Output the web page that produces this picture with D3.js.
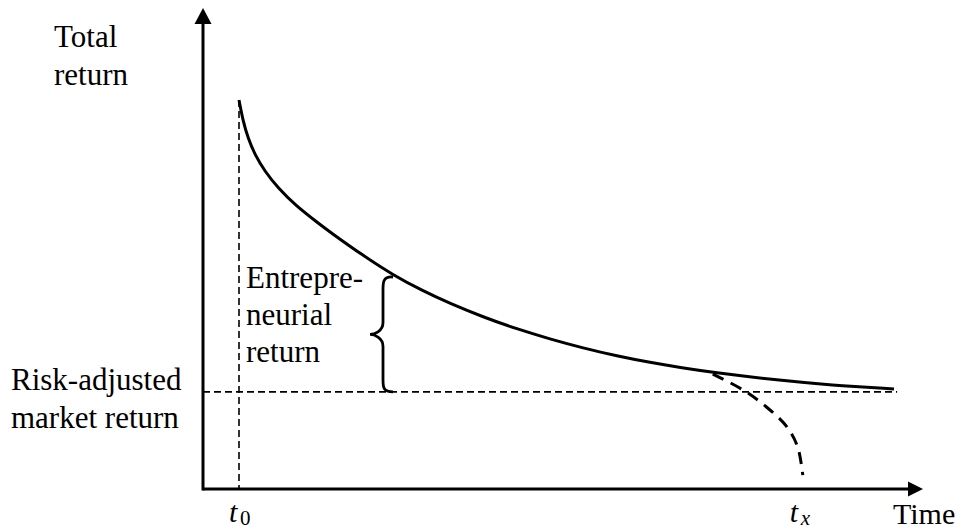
<!DOCTYPE html>
<html>
<head>
<meta charset="utf-8">
<script src="https://cdn.jsdelivr.net/npm/d3@7"></script>
<style>
  body { margin: 0; background: #fff; }
  svg { display: block; }
</style>
</head>
<body>
<div id="chart"></div>
<script>
// time (0-100) vs total return (0-100)
const curveTime   = [5.0, 5.56, 6.25, 7.22, 8.61, 10.42, 12.78, 15.97, 17.64, 22.22, 26.39, 30.56, 34.31, 38.89, 43.61, 48.19, 52.78, 57.5, 62.08, 66.67, 70.42, 80.14, 87.08, 95.97];
const curveReturn = [80.87, 76.51, 72.97, 69.44, 66.01, 62.58, 59.04, 55.3, 53.43, 48.54, 44.49, 41.16, 38.57, 35.76, 33.26, 31.19, 29.31, 27.65, 26.3, 25.16, 24.32, 22.56, 21.62, 20.79];

const dropTime   = [70.8, 75.0, 78.3, 81.1, 82.6, 83.3];
const dropReturn = [23.9, 20.6, 17.0, 12.9, 8.7, 2.9];

const marketReturn = 20.2;
const marketEnd = 96.4;
const t0 = 5.0;
const braceTime = 26.39;
const braceTop = 44.49;

const width = 963, height = 532;

const x = d3.scaleLinear().domain([0, 100]).range([203, 923]);
const y = d3.scaleLinear().domain([0, 100]).range([489, 8]);

const svg = d3.select("#chart").append("svg")
    .attr("width", width)
    .attr("height", height)
    .attr("viewBox", [0, 0, width, height]);

// axes with arrow heads
svg.append("line")
    .attr("x1", x(0)).attr("x2", x(100) - 6)
    .attr("y1", y(0)).attr("y2", y(0))
    .attr("stroke", "#000").attr("stroke-width", 3);
svg.append("line")
    .attr("x1", x(0)).attr("x2", x(0))
    .attr("y1", y(0) + 1.5).attr("y2", y(100) + 6)
    .attr("stroke", "#000").attr("stroke-width", 3);
svg.append("path")
    .attr("d", `M${x(100)},${y(0)}L${x(100) - 15},${y(0) - 7.5}L${x(100) - 15},${y(0) + 7.5}Z`)
    .attr("fill", "#000");
svg.append("path")
    .attr("d", `M${x(0)},${y(100)}L${x(0) - 8.5},${y(100) + 16}L${x(0) + 8.5},${y(100) + 16}Z`)
    .attr("fill", "#000");

// thin dashed guides
svg.append("line")
    .attr("x1", x(t0)).attr("x2", x(t0))
    .attr("y1", y(curveReturn[0])).attr("y2", y(0))
    .attr("stroke", "#000").attr("stroke-width", 1.6)
    .attr("stroke-dasharray", "7,4");
svg.append("line")
    .attr("x1", x(0)).attr("x2", x(marketEnd))
    .attr("y1", y(marketReturn)).attr("y2", y(marketReturn))
    .attr("stroke", "#000").attr("stroke-width", 1.6)
    .attr("stroke-dasharray", "7,4");

const line = d3.line()
    .x(d => x(d[0]))
    .y(d => y(d[1]))
    .curve(d3.curveBasis);

// total return curve
svg.append("path")
    .datum(curveTime.map((t, i) => [t, curveReturn[i]]))
    .attr("d", line)
    .attr("fill", "none")
    .attr("stroke", "#000")
    .attr("stroke-width", 3);

// collapse of the return
svg.append("path")
    .datum(dropTime.map((t, i) => [t, dropReturn[i]]))
    .attr("d", line.curve(d3.curveCatmullRom))
    .attr("fill", "none")
    .attr("stroke", "#000")
    .attr("stroke-width", 3)
    .attr("stroke-dasharray", "12,8");

// curly brace
const bx = x(braceTime), yt = y(braceTop) + 2, yb = y(marketReturn);
const sx = bx - 10, tip = bx - 23, ym = (yt + yb) / 2;
svg.append("path")
    .attr("d", `M${bx},${yt} C${sx},${yt - 1} ${sx},${yt + 6} ${sx},${yt + 12}
      L${sx},${ym - 12} C${sx},${ym - 3} ${tip + 4},${ym} ${tip},${ym}
      C${tip + 4},${ym} ${sx},${ym + 3} ${sx},${ym + 12}
      L${sx},${yb - 12} C${sx},${yb - 5} ${sx},${yb} ${bx},${yb}`)
    .attr("fill", "none")
    .attr("stroke", "#000")
    .attr("stroke-width", 2.8);

// labels, one text element per line
const label = (lines, lx, ly, lh, size = 31) => {
  lines.forEach((s, i) => svg.append("text")
      .attr("x", lx).attr("y", ly + i * lh)
      .attr("font-family", "Liberation Serif")
      .attr("font-size", size)
      .attr("fill", "#000")
      .text(s));
};
label(["Total", "return"], 54, 47, 38);
label(["Risk-adjusted", "market return"], 11, 390, 38);
label(["Entrepre-", "neurial", "return"], 246, 288, 37);
label(["Time"], 893, 524, 0, 30);

const sub = (main, s, lx, ly) => {
  svg.append("text")
      .attr("x", lx).attr("y", ly)
      .attr("font-family", "Liberation Serif")
      .attr("font-style", "italic")
      .attr("font-size", 30)
      .text(main);
  svg.append("text")
      .attr("x", lx + 11).attr("y", ly + 3)
      .attr("font-family", "Liberation Serif")
      .attr("font-style", s === "x" ? "italic" : "normal")
      .attr("font-size", 21)
      .text(s);
};
sub("t", "0", x(t0) - 10, 522);
sub("t", "x", x(dropTime[dropTime.length - 1]) - 13, 522);
</script>
</body>
</html>
